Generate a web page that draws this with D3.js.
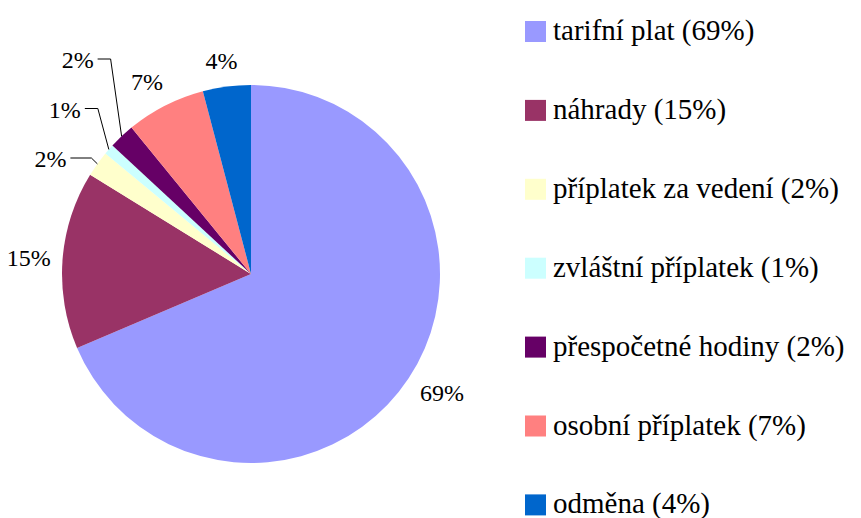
<!DOCTYPE html>
<html>
<head>
<meta charset="utf-8">
<script src="https://cdn.jsdelivr.net/npm/d3@7"></script>
<style>
  body { margin: 0; background: #fff; }
</style>
</head>
<body>
<div id="chart"></div>
<script>
// Data
const categories = ['tarifní plat', 'náhrady', 'příplatek za vedení', 'zvláštní příplatek',
    'přespočetné hodiny', 'osobní příplatek', 'odměna'];
const shares = [68.6, 15.2, 2.2, 0.9, 2.2, 6.8, 4.1];
const colors = ['#9999FF', '#993366', '#FFFFCC', '#CCFFFF', '#660066', '#FF8080', '#0066CC'];

const W = 861, H = 518;
const cx = 251, cy = 274, r = 189;
const FONT = 'Liberation Serif';

const svg = d3.select('#chart').append('svg')
    .attr('width', W)
    .attr('height', H);

const pie = d3.pie().sort(null).value(d => d.v);
const arcs = pie(categories.map((c, i) => ({ name: c, v: shares[i], color: colors[i] })));
const arc = d3.arc().innerRadius(0).outerRadius(r);

const g = svg.append('g').attr('transform', `translate(${cx},${cy})`);

g.selectAll('path.slice')
    .data(arcs)
    .enter()
    .append('path')
    .attr('class', 'slice')
    .attr('d', arc)
    .attr('fill', d => d.data.color);

const pct = v => Math.round(v) + '%';
const mid = d => (d.startAngle + d.endAngle) / 2;

// normal labels, outside the edge
const labelFont = 24;
arcs.filter(d => d.data.v >= 3).forEach(d => {
    const a = mid(d);
    const w = labelFont * 1.833;
    const h = labelFont * 0.68;
    const rr = r + 18;
    const x = rr * Math.sin(a) + Math.sin(a) * w / 2;
    const y = -rr * Math.cos(a) - Math.cos(a) * h / 2;
    g.append('text')
        .attr('x', x + (Math.sin(a) < -0.9 ? 6 : 0))
        .attr('y', y + h / 2)
        .attr('text-anchor', 'middle')
        .attr('font-family', FONT)
        .attr('font-size', labelFont)
        .text(pct(d.data.v));
});

// small slices: stacked callouts with leader lines
const smallOnes = arcs.filter(d => d.data.v < 3).reverse();
const calloutTop = 59, calloutStep = 49.5;
smallOnes.forEach((d, k) => {
    const a = mid(d);
    const ax = r * Math.sin(a), ay = -r * Math.cos(a);
    const ly = calloutTop + k * calloutStep - cy;
    const last = k === smallOnes.length - 1;
    const ex = ax - (last ? 6 : 11);
    const hx = ex - (last ? 21 : 13);
    g.append('polyline')
        .attr('points', `${ax},${ay} ${ex},${ly} ${hx},${ly}`)
        .attr('fill', 'none')
        .attr('stroke', '#000')
        .attr('stroke-width', 1);
    g.append('text')
        .attr('x', hx - 4)
        .attr('y', ly + 9)
        .attr('text-anchor', 'end')
        .attr('font-family', FONT)
        .attr('font-size', labelFont)
        .text(pct(d.data.v));
});

// legend
const legendX = 525, legendTop = 31.5, legendStep = 78.9, box = 21;
const legend = svg.append('g').attr('class', 'legend');
arcs.forEach((d, i) => {
    const row = legend.append('g')
        .attr('transform', `translate(${legendX},${legendTop + i * legendStep})`);
    row.append('rect')
        .attr('x', 0)
        .attr('y', -box / 2)
        .attr('width', box)
        .attr('height', box)
        .attr('fill', d.data.color);
    row.append('text')
        .attr('x', 28)
        .attr('y', 8.5)
        .attr('font-family', FONT)
        .attr('font-size', 29)
        .text(`${d.data.name} (${pct(d.data.v)})`);
});
</script>
</body>
</html>
